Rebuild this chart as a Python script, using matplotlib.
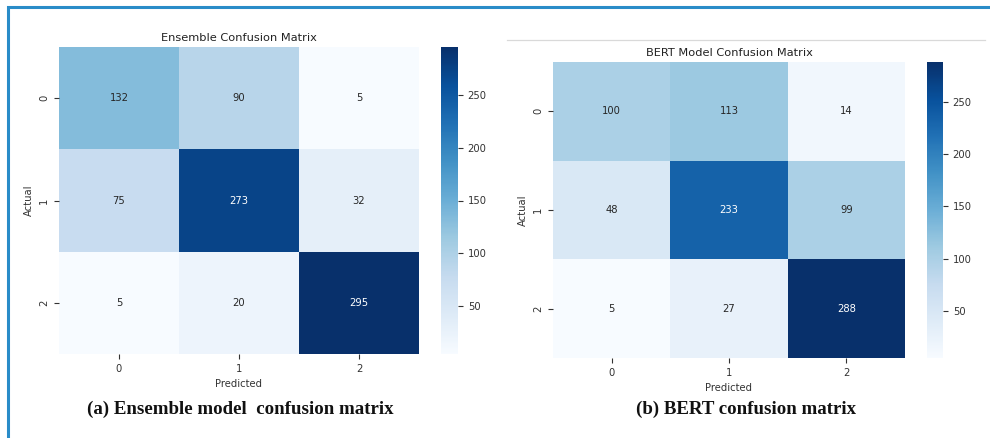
import numpy as np
import matplotlib
matplotlib.use("Agg")
import matplotlib.pyplot as plt
import seaborn as sns
from matplotlib.patches import Rectangle
from matplotlib.lines import Line2D

class_labels = ["0", "1", "2"]

ensemble_cm = [[132, 90, 5],
               [75, 273, 32],
               [5, 20, 295]]

bert_cm = [[100, 113, 14],
           [48, 233, 99],
           [5, 27, 288]]

titles = ["Ensemble Confusion Matrix", "BERT Model Confusion Matrix"]
captions = ["(a) Ensemble model  confusion matrix", "(b) BERT confusion matrix"]

W, H = 990, 438
fig = plt.figure(figsize=(W / 100, H / 100), dpi=100)


def px_axes(x0, y0, x1, y1):
    """Axes placed by pixel box (top-left origin)."""
    return fig.add_axes([x0 / W, 1 - y1 / H, (x1 - x0) / W, (y1 - y0) / H])


# outer frame
fig.patches.append(Rectangle((7.5 / W, -0.05), 1.2, 1 - 6.5 / H + 0.05,
                             transform=fig.transFigure, fill=False,
                             edgecolor="#2a8cc8", linewidth=2.2))
# thin separator above the right panel
fig.lines.append(Line2D([507 / W, 985 / W], [1 - 40 / H, 1 - 40 / H],
                        transform=fig.transFigure, color="#d9d9d9", linewidth=0.9))

panels = [
    (ensemble_cm, (59, 47, 419, 354), (441, 47, 458, 354)),
    (bert_cm, (553, 62, 905, 358), (927, 62, 943, 358)),
]

fs = 7.2
for (cm, box, cbox), title in zip(panels, titles):
    ax = px_axes(*box)
    cax = px_axes(*cbox)
    sns.heatmap(np.array(cm), annot=True, fmt="d", cmap="Blues", ax=ax, cbar_ax=cax,
                xticklabels=class_labels, yticklabels=class_labels,
                annot_kws={"fontsize": fs})
    ax.set_title(title, fontsize=8.2, color="#222222", pad=4)
    ax.set_xlabel("Predicted", fontsize=fs, color="#333333")
    ax.set_ylabel("Actual", fontsize=fs, color="#333333")
    ax.tick_params(labelsize=fs, colors="#333333")
    cax.tick_params(labelsize=fs, colors="#333333")

cap_x = [240, 746]
for x, text in zip(cap_x, captions):
    fig.text(x / W, 1 - 409 / H, text, ha="center", va="center",
             fontsize=13.6, fontweight="bold", family="Liberation Serif", color="#111111")

fig.savefig("out.png", dpi=100)
